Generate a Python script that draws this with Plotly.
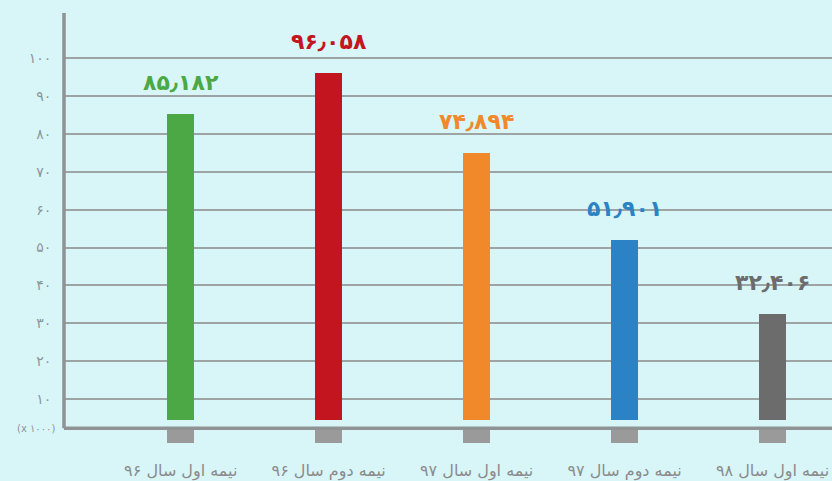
import plotly.graph_objects as go

# ---- data ----
categories = ["نیمه اول سال ۹۶", "نیمه دوم سال ۹۶", "نیمه اول سال ۹۷",
              "نیمه دوم سال ۹۷", "نیمه اول سال ۹۸"]
values = [85.182, 96.058, 74.894, 51.901, 32.406]          # (x 1000)
value_labels = ["۸۵٫۱۸۲", "۹۶٫۰۵۸", "۷۴٫۸۹۴", "۵۱٫۹۰۱", "۳۲٫۴۰۶"]
bar_colors = ["#4ba845", "#c2151f", "#f1892a", "#2b83c6", "#6c6c6c"]
y_tickvals = [10, 20, 30, 40, 50, 60, 70, 80, 90, 100]
y_ticktext = ["۱۰", "۲۰", "۳۰", "۴۰", "۵۰", "۶۰", "۷۰", "۸۰", "۹۰", "۱۰۰"]
unit_label = "(x ۱۰۰۰)"

# ---- style constants ----
BG = "#d8f5f8"
GRID = "#9ea3a4"
AXIS = "#909393"
BAR_FLOOR = 4.5      # bars start a bit above the baseline
AXIS_Y = 2.27        # horizontal base line
STUB_BOTTOM = -1.6   # grey stubs under the base line
Y_MIN, Y_MAX = -3.46, 111.96
BAR_W = 0.186
FONT = "DejaVu Sans"

x = list(range(len(categories)))

fig = go.Figure()

# grey stubs under the axis
fig.add_trace(go.Bar(
    x=x, y=[AXIS_Y - STUB_BOTTOM] * len(x), base=STUB_BOTTOM,
    width=BAR_W, marker=dict(color="#9a9a9a", line=dict(width=0)),
    hoverinfo="skip", showlegend=False))

# main bars
fig.add_trace(go.Bar(
    x=x, y=[v - BAR_FLOOR for v in values], base=BAR_FLOOR,
    width=BAR_W, marker=dict(color=bar_colors, line=dict(width=0)),
    hoverinfo="skip", showlegend=False))

# value labels above bars
for xi, v, lab, col in zip(x, values, value_labels, bar_colors):
    fig.add_annotation(x=xi, y=v, text=f"<b>{lab}</b>", showarrow=False,
                       yanchor="bottom", yshift=17,
                       font=dict(family=FONT, size=22, color=col))

# unit label at baseline
fig.add_annotation(xref="paper", x=0, yref="y", y=AXIS_Y, text=unit_label,
                   showarrow=False, xanchor="right", xshift=-7,
                   font=dict(family=FONT, size=10, color="#8a969c"))

# axis lines
fig.add_shape(type="line", xref="paper", x0=0, x1=1, yref="y",
              y0=AXIS_Y, y1=AXIS_Y, line=dict(color=AXIS, width=3.5))
fig.add_shape(type="line", xref="paper", x0=0, x1=0, yref="y",
              y0=AXIS_Y, y1=Y_MAX, line=dict(color=AXIS, width=3.5))

fig.update_layout(
    width=832, height=481,
    margin=dict(l=64, r=0, t=13, b=31),
    paper_bgcolor=BG, plot_bgcolor=BG,
    barmode="overlay", bargap=0,
    font=dict(family=FONT),
    xaxis=dict(range=[-0.789, 4.402], tickvals=x, ticktext=categories,
               showgrid=False, zeroline=False, showline=False,
               ticks="outside", ticklen=6, tickcolor="rgba(0,0,0,0)",
               tickfont=dict(family=FONT, size=16, color="#8b8b8b"),
               fixedrange=True),
    yaxis=dict(range=[Y_MIN, Y_MAX], tickvals=y_tickvals, ticktext=y_ticktext,
               showgrid=True, gridcolor=GRID, gridwidth=2,
               zeroline=False, showline=False,
               ticks="outside", ticklen=9, tickcolor="rgba(0,0,0,0)",
               tickfont=dict(family=FONT, size=14, color="#8a969c"),
               fixedrange=True),
)

fig.write_html(
    "out.html",
    config={"displayModeBar": False},
    post_script=("document.body.style.margin='0';"
                 "document.body.style.background='" + BG + "';"),
)
